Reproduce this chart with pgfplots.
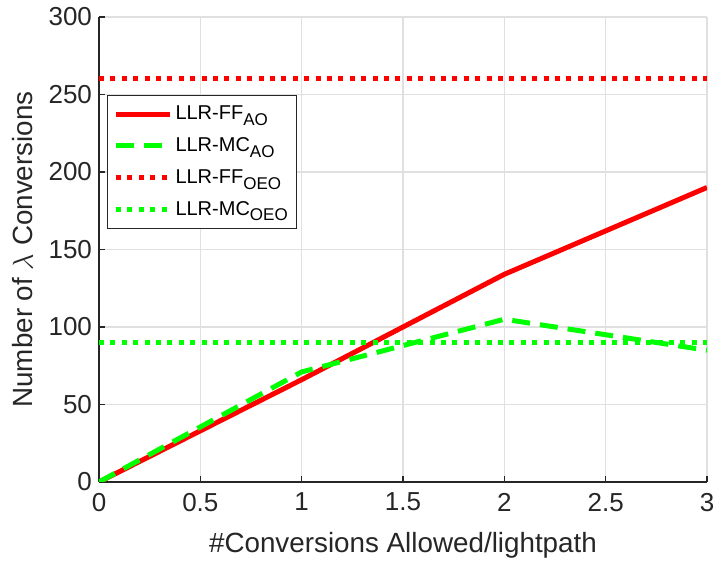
\documentclass[border=0pt]{standalone}
\usepackage{fontspec}
\setmainfont{Liberation Sans}
\usepackage{pgfplots}
\pgfplotsset{compat=1.18}
\definecolor{axgray}{HTML}{262626}
\newcommand{\sub}[1]{\raisebox{-0.55ex}{\fontsize{8.5}{9}\selectfont #1}}
\begin{document}
\begin{tikzpicture}
\begin{axis}[
  scale only axis, width=304pt, height=232.5pt,
  xmin=0, xmax=3, ymin=0, ymax=300,
  xtick={0,0.5,1,1.5,2,2.5,3}, ytick={0,50,100,150,200,250,300},
  axis lines=left, axis line style={-, color=axgray, line width=0.6pt},
  tick align=inside, major tick length=3pt,
  tick style={color=axgray, line width=0.6pt},
  grid=major, grid style={color=black!12, line width=0.7pt},
  /pgf/number format/assume math mode=true,
  tick label style={font=\fontsize{13}{15}\selectfont, text=axgray},
  xticklabel style={inner xsep=0pt, yshift=-2pt},
  xlabel={\#Conversions Allowed/lightpath},
  ylabel={Number of $\lambda$ Conversions},
  every axis x label/.style={at={(axis description cs:0.5,-0.1355)}, anchor=center,
    font=\fontsize{13.9}{16}\selectfont, text=axgray},
  every axis y label/.style={at={(axis description cs:-0.125,0.5)}, rotate=90, anchor=center,
    font=\fontsize{13.9}{16}\selectfont, text=axgray},
  legend style={at={(0.013,0.832)}, anchor=north west, draw=axgray, line width=0.6pt,
    fill=white, font=\fontsize{10}{12}\selectfont, row sep=3.5pt,
    inner xsep=3pt, inner ysep=3pt,
    nodes={inner xsep=1.5pt}},
  legend cell align=left,
  legend image code/.code={\draw[#1] (0pt,0pt) -- (27pt,0pt);},
]
\addplot[red, line width=2.5pt, line cap=butt] coordinates {(0,0) (1,66) (2,134) (3,190)};
\addlegendentry{LLR-FF\sub{AO}}
\addplot[green, line width=2.5pt, dash pattern=on 9pt off 5pt] coordinates {(0,0) (1,71) (2,105) (3,85)};
\addlegendentry{LLR-MC\sub{AO}}
\addplot[red, line width=2.5pt, dash pattern=on 2.5pt off 3.2pt] coordinates {(0,260) (3,260)};
\addlegendentry{LLR-FF\sub{OEO}}
\addplot[green, line width=2.5pt, dash pattern=on 2.5pt off 3.2pt] coordinates {(0,90) (3,90)};
\addlegendentry{LLR-MC\sub{OEO}}
\end{axis}
\pgfresetboundingbox
\path ([shift={(-49.5pt,-41pt)}]current axis.south west) rectangle ([shift={(4pt,8.5pt)}]current axis.north east);
\end{tikzpicture}
\end{document}
